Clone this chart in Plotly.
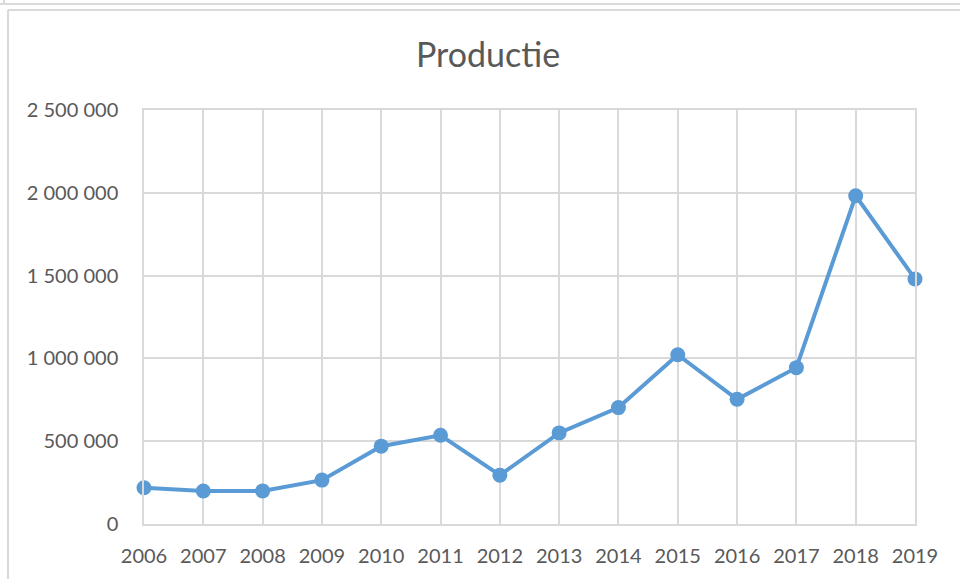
import plotly.graph_objects as go

years = [2006, 2007, 2008, 2009, 2010, 2011, 2012, 2013, 2014, 2015, 2016, 2017, 2018, 2019]
production = [219000, 199000, 200000, 265000, 470000, 536000, 295000, 550000, 703000, 1022000, 753000, 944000, 1982000, 1480000]
y_ticks = [0, 500000, 1000000, 1500000, 2000000, 2500000]

GRID = "#d9d9d9"
TXT = "#595959"
FONT = "Lato"

fig = go.Figure(go.Scatter(
    x=years, y=production, mode="lines+markers",
    line=dict(color="#5B9BD5", width=4),
    marker=dict(color="#5B9BD5", size=15),
    cliponaxis=False,
))

L, R, T, B = 144, 45, 110, 55
W, H = 960, 579
pw, ph = W - L - R, H - T - B

def px_x(p):
    return (p - L) / pw

def px_y(p):
    return (H - B - p) / ph

shapes = [
    dict(type="line", xref="paper", yref="paper", x0=px_x(0), x1=px_x(960), y0=px_y(4), y1=px_y(4),
         line=dict(color=GRID, width=2)),
    dict(type="line", xref="paper", yref="paper", x0=px_x(4), x1=px_x(4), y0=px_y(0), y1=px_y(4),
         line=dict(color=GRID, width=2)),
    dict(type="line", xref="paper", yref="paper", x0=px_x(8), x1=px_x(970), y0=px_y(10), y1=px_y(10),
         line=dict(color=GRID, width=2)),
    dict(type="line", xref="paper", yref="paper", x0=px_x(8), x1=px_x(8), y0=px_y(10), y1=px_y(590),
         line=dict(color=GRID, width=2)),
]

fig.update_layout(
    width=W, height=H,
    margin=dict(l=L, r=R, t=T, b=B),
    paper_bgcolor="white", plot_bgcolor="white",
    separators=", ",
    showlegend=False,
    font=dict(family=FONT, color=TXT, size=20),
    title=dict(text="Productie", x=488 / W, xanchor="center", y=1 - 55 / H, yanchor="middle",
               font=dict(size=34, color=TXT, family=FONT)),
    shapes=shapes,
)
fig.update_xaxes(
    range=[2006, 2019], tickmode="array", tickvals=years, ticktext=[str(y) for y in years],
    showgrid=True, gridcolor=GRID, gridwidth=1.5,
    showline=True, linecolor=GRID, linewidth=1.5, mirror=True,
    zeroline=False, ticks="", ticklabelstandoff=13,
    tickfont=dict(size=20, color=TXT, family=FONT),
)
fig.update_yaxes(
    range=[0, 2500000], tickmode="array", tickvals=y_ticks, tickformat=",d",
    showgrid=True, gridcolor=GRID, gridwidth=1.5,
    showline=True, linecolor=GRID, linewidth=1.5, mirror=True,
    zeroline=False, ticks="", ticklabelstandoff=20,
    tickfont=dict(size=20, color=TXT, family=FONT),
)

fig.write_html("out.html", config={"displayModeBar": False},
               post_script="document.body.style.margin='0';")
